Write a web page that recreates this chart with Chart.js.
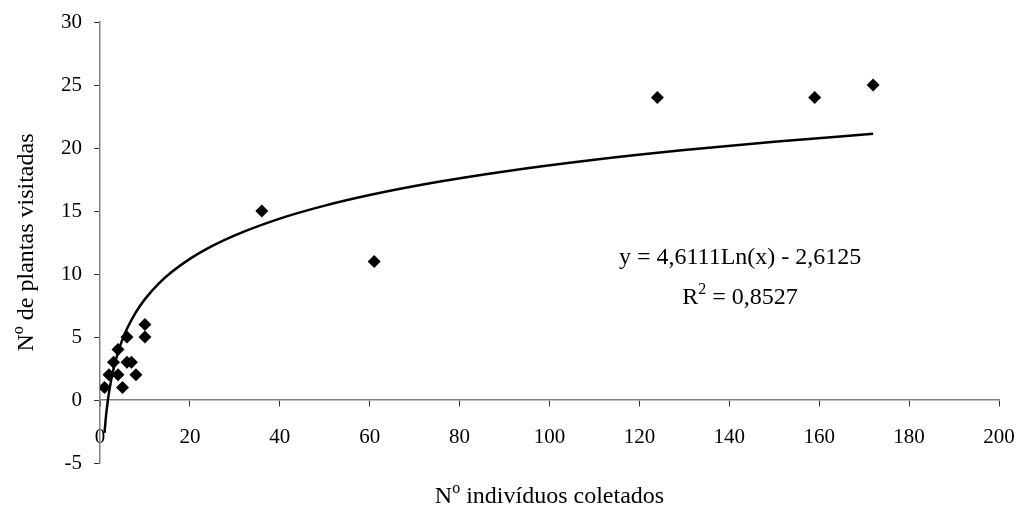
<!DOCTYPE html>
<html>
<head>
<meta charset="utf-8">
<script src="https://cdn.jsdelivr.net/npm/chart.js@4"></script>
<style>
  body { margin: 0; background: #fff; }
  #wrap { width: 1020px; height: 525px; }
</style>
</head>
<body>
<div id="wrap"><canvas id="chart" width="1020" height="525"></canvas></div>
<script>
// dados
const individuos = [1, 2, 3, 4, 4, 5, 6, 6, 7, 8, 10, 10, 36, 61, 124, 159, 172];
const plantas = [1, 2, 3, 2, 4, 1, 5, 3, 3, 2, 6, 5, 15, 11, 24, 24, 25];

// linha de tendência logarítmica (coeficientes mostrados no gráfico)
const coefA = 4.6111;
const coefB = -2.6125;
const trendX = [1, 1.25, 1.5, 2, 2.5, 3, 4, 5, 6, 8, 10, 13, 16, 20, 25, 30, 40, 50, 60, 75, 90, 110, 130, 150, 172];

const xTicks = [0, 20, 40, 60, 80, 100, 120, 140, 160, 180, 200];
const yTicks = [-5, 0, 5, 10, 15, 20, 25, 30];

const eqText = "y = 4,6111Ln(x) - 2,6125";
const r2Text = "0,8527";

const FONT = '"Liberation Serif", "Times New Roman", serif';

const pontos = individuos.map((x, i) => ({ x: x, y: plantas[i] }));
const tendencia = trendX.map(x => ({ x: x, y: coefA * Math.log(x) + coefB }));

// textos com sobrescrito (Nº, R²)
const textPlugin = {
  id: "textos",
  afterDraw(chart) {
    const ctx = chart.ctx;
    const xs = chart.scales.x, ys = chart.scales.y;
    const area = chart.chartArea;
    ctx.save();
    ctx.fillStyle = "#000";
    ctx.textBaseline = "middle";

    function supText(parts, cx, cy) {
      // parts: [texto, sobrescrito?]
      let total = 0;
      parts.forEach(p => {
        ctx.font = (p[1] ? "16px " : "24px ") + FONT;
        total += ctx.measureText(p[0]).width;
      });
      let x = cx - total / 2;
      ctx.textAlign = "left";
      parts.forEach(p => {
        ctx.font = (p[1] ? "16px " : "24px ") + FONT;
        ctx.fillText(p[0], x, p[1] ? cy - 8 : cy);
        x += ctx.measureText(p[0]).width;
      });
    }

    // equação
    const ex = xs.getPixelForValue(142.4);
    supText([[eqText, false]], ex, ys.getPixelForValue(11.3));
    supText([["R", false], ["2", true], [" = " + r2Text, false]], ex, ys.getPixelForValue(8.1));

    // título eixo x
    supText([["N", false], ["o", true], [" indivíduos coletados", false]], (area.left + area.right) / 2, 497);

    // título eixo y
    ctx.translate(27, (area.top + area.bottom) / 2);
    ctx.rotate(-Math.PI / 2);
    supText([["N", false], ["o", true], [" de plantas visitadas", false]], 0, 0);
    ctx.restore();
  }
};

new Chart(document.getElementById("chart"), {
  type: "scatter",
  data: {
    datasets: [
      {
        label: "Pontos",
        data: pontos,
        pointStyle: "rectRot",
        pointRadius: 6.5,
        pointHoverRadius: 6.5,
        backgroundColor: "#000",
        borderColor: "#000",
        borderWidth: 0
      },
      {
        label: "Tendência",
        type: "line",
        data: tendencia,
        borderColor: "#000",
        borderWidth: 2.5,
        pointRadius: 0,
        fill: false,
        cubicInterpolationMode: "monotone"
      }
    ]
  },
  options: {
    responsive: false,
    animation: false,
    layout: { padding: { top: 22, right: 21, bottom: 62, left: 0 } },
    plugins: {
      legend: { display: false },
      tooltip: { enabled: false }
    },
    scales: {
      x: {
        type: "linear",
        position: { y: 0 },
        min: 0,
        max: 200,
        afterBuildTicks: s => { s.ticks = xTicks.map(v => ({ value: v })); },
        afterFit: s => { s.paddingRight = 0; s.paddingLeft = 0; },
        border: { display: true, color: "#808080", width: 1.5 },
        grid: { drawOnChartArea: false, drawTicks: true, tickLength: 6, color: "#333" },
        ticks: { color: "#000", padding: 19, maxRotation: 0, font: { family: FONT, size: 21 } }
      },
      y: {
        min: -5,
        max: 30,
        afterBuildTicks: s => { s.ticks = yTicks.map(v => ({ value: v })); },
        afterFit: s => { s.width = 100; s.paddingTop = 0; s.paddingBottom = 0; },
        border: { display: true, color: "#808080", width: 1.5 },
        grid: { drawOnChartArea: false, drawTicks: true, tickLength: 6, color: "#333" },
        ticks: { color: "#000", padding: 12, font: { family: FONT, size: 21 } }
      }
    }
  },
  plugins: [textPlugin]
});
</script>
</body>
</html>
